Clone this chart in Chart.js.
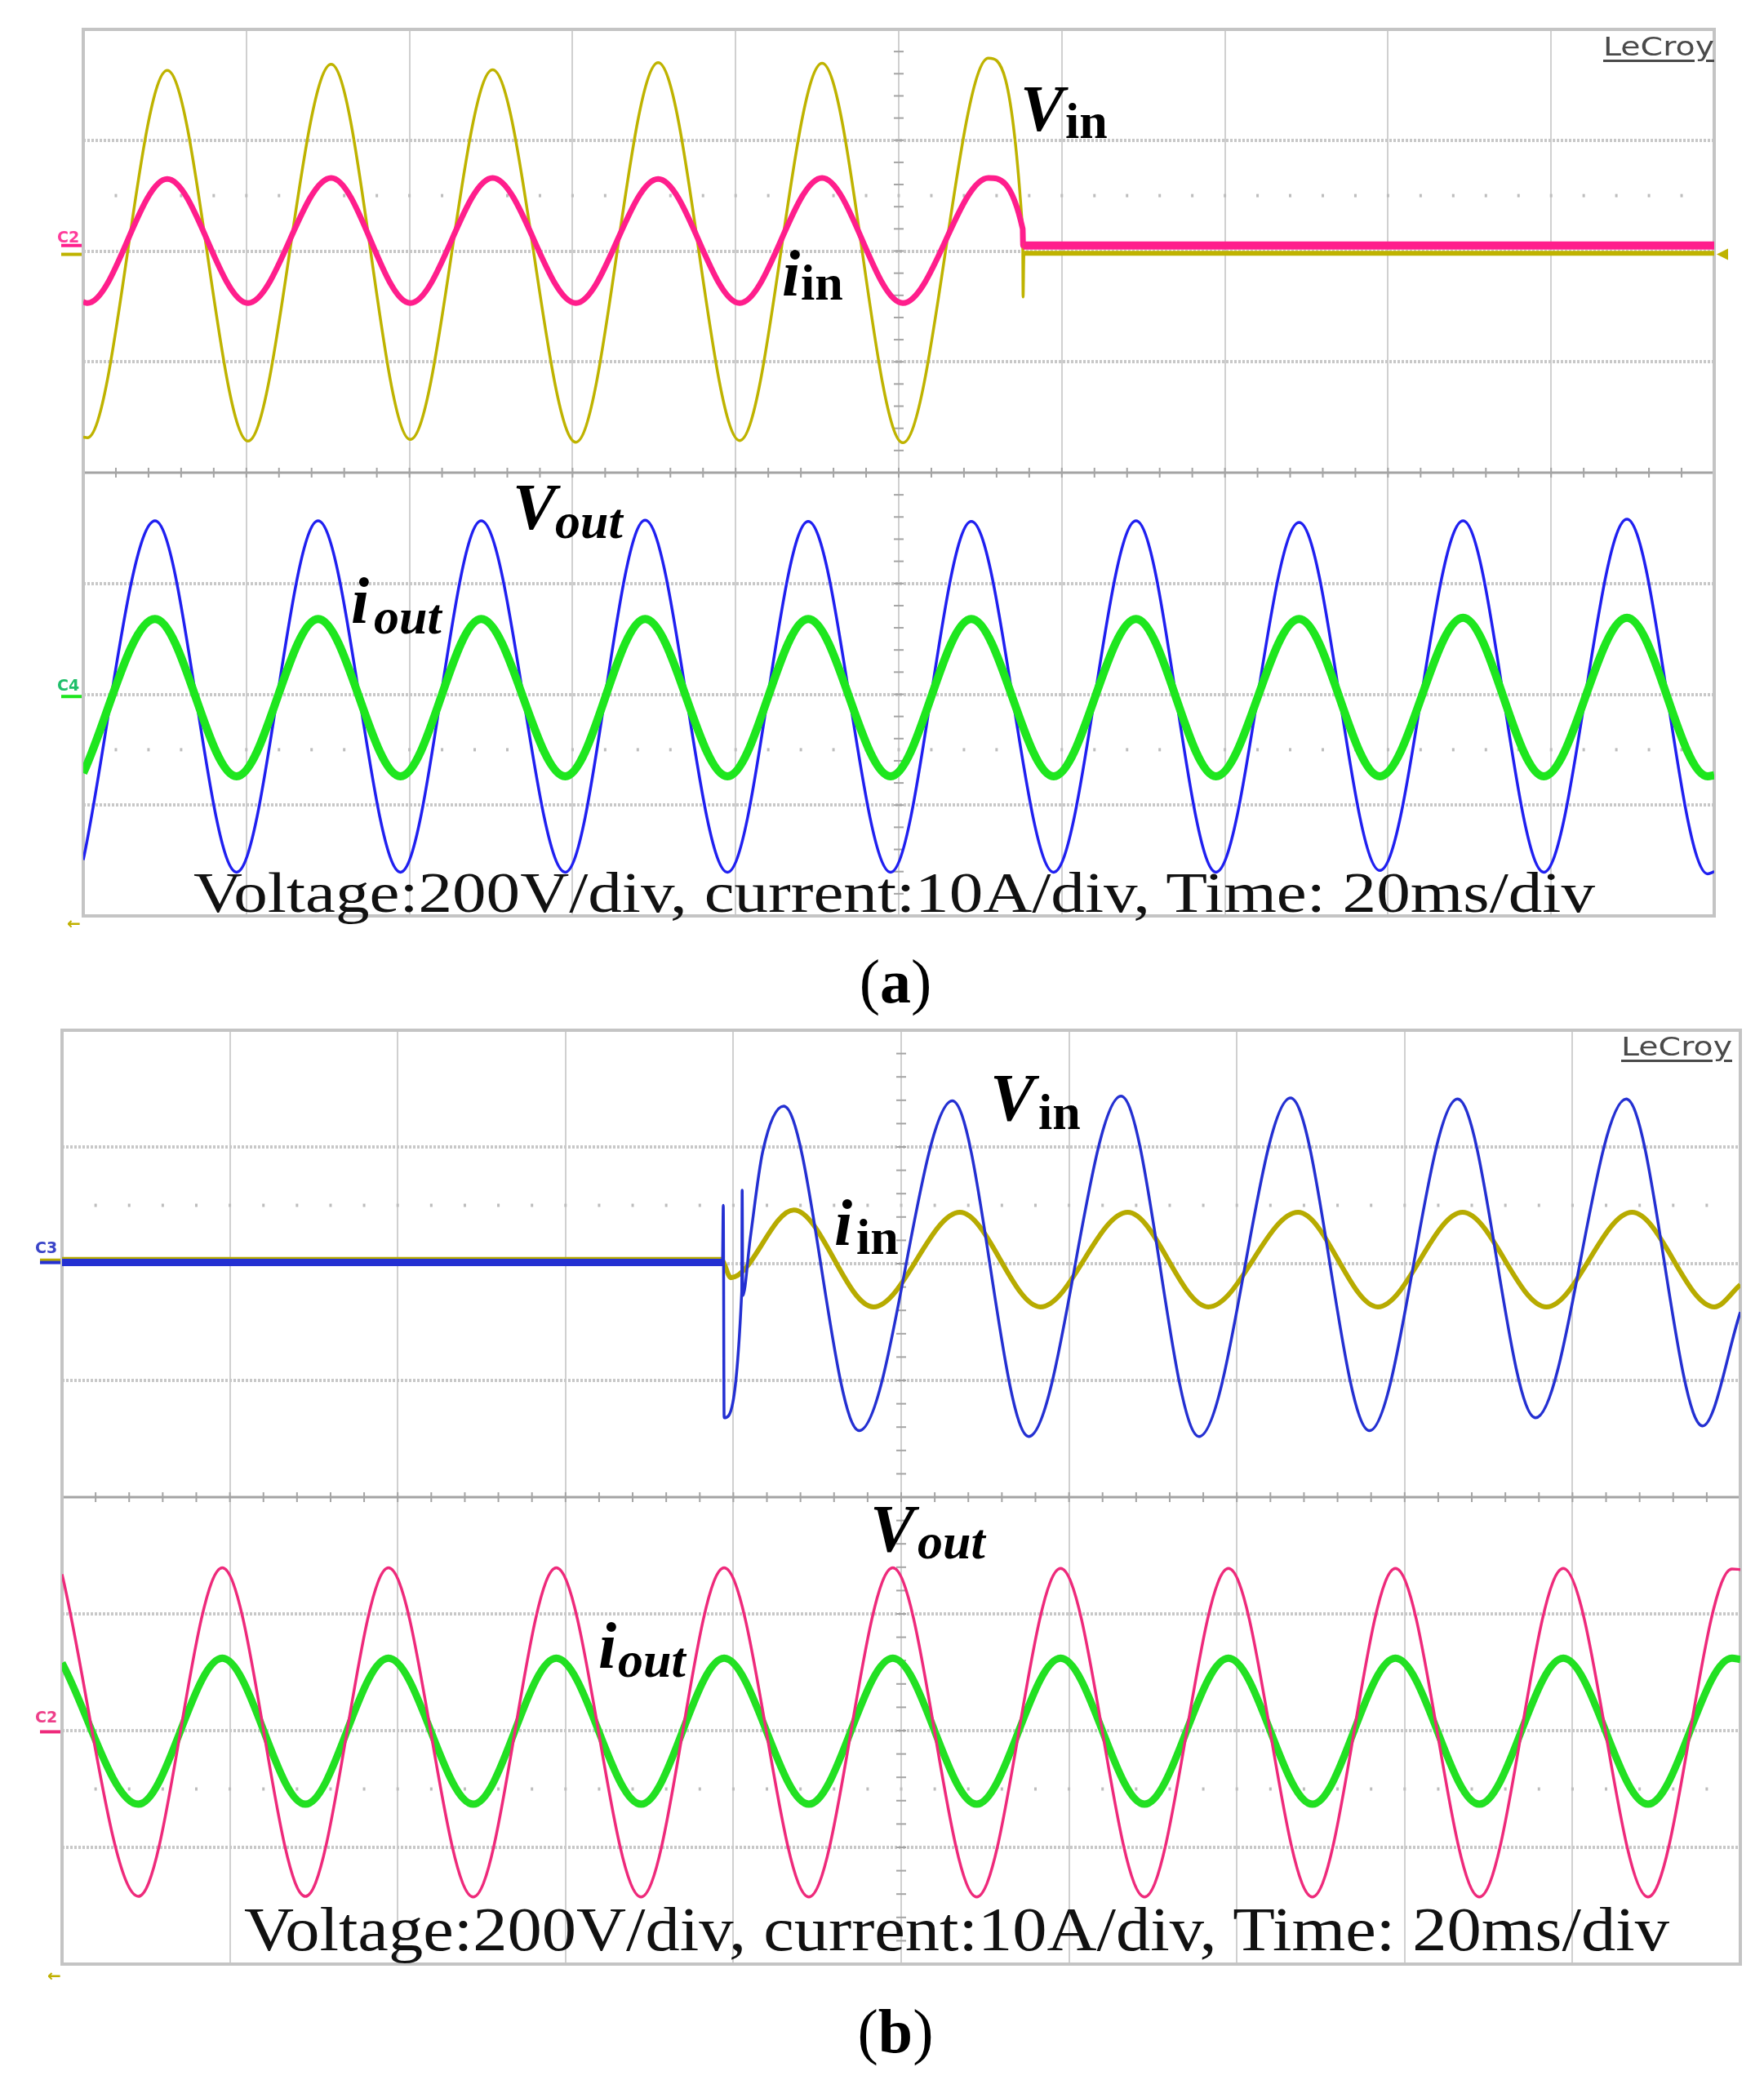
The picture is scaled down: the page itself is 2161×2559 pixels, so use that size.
<!DOCTYPE html>
<html>
<head>
<meta charset="utf-8">
<title>Input cut-off / start-up waveforms</title>
<script src="https://cdn.jsdelivr.net/npm/chart.js@4.4.0/dist/chart.umd.min.js"></script>
<style>
  html, body { margin: 0; padding: 0; background: #fff; }
  body { position: relative; width: 2161px; height: 2559px; overflow: hidden; }
  canvas { position: absolute; left: 0; }
  #scopeA { top: 0; }
  #scopeB { top: 1230px; }
  .txt { position: absolute; white-space: nowrap; color: #000; }
</style>
</head>
<body>
<canvas id="scopeA" width="2161" height="1160"></canvas>
<canvas id="scopeB" width="2161" height="1210"></canvas>
<script>
// ============================
// Scope settings
// ============================
const MS_PER_DIV = 20;
const V_PER_DIV = 200;
const A_PER_DIV = 10;
const X_DIVS = 10;
const Y_HALF = 4; // 8 divisions, split into two 4-div grids

// channel zero levels (divisions above screen centre)
const A_VIN_ZERO = 1.97, A_IIN_ZERO = 2.05, A_OUT_ZERO = -2.02;
const B_VIN_ZERO = 2.01, B_IIN_ZERO = 2.03, B_OUT_ZERO = -2.01;

// ============================
// (a) input switched off at ~115 ms
// times in ms (peaks/troughs), values in V / A
// ============================
const aInT = [0, 0.5, 10.3, 20.2, 30.4, 40.1, 50.2, 60.4, 70.5, 80.5, 90.6, 100.5, 111.0, 115.2, 115.25, 115.35, 200];
const aVin = [-330, -331, 332, -337, 343, -334, 333, -339, 346, -336, 345, -340, 354, 41, -77, 2, 2];
const aIin = [-5.1, -5.2, 6.0, -5.2, 6.1, -5.2, 6.1, -5.2, 6.0, -5.2, 6.1, -5.2, 6.1, 1.5, 0, 0, 0];

const aOutT = [0, 8.8, 18.8, 28.8, 38.9, 48.8, 59.1, 68.9, 79.0, 88.9, 99.0, 108.9, 119.0, 129.1, 138.9, 149.1, 159.0, 169.2, 179.1, 189.3, 199.2, 200];
const aVout = [-295, 317, -317, 317, -317, 317, -317, 318, -317, 316, -317, 316, -317, 317, -317, 314, -314, 317, -317, 320, -320, -316];
const aIout = [-6.9, 7.0, -7.2, 7.0, -7.2, 7.0, -7.2, 7.0, -7.2, 7.0, -7.2, 7.0, -7.2, 7.0, -7.2, 7.0, -7.2, 7.1, -7.2, 7.1, -7.2, -7.1];

// ============================
// (b) input switched on at ~79 ms
// ============================
const bVinT = [0, 78.7, 78.8, 78.9, 81.0, 81.05, 81.12, 82.0, 83.5, 86.0, 95.0, 106.1, 115.2, 126.2, 135.5, 146.4, 155.8, 166.3, 175.6, 186.4, 195.5, 200];
const bVin = [0, 0, 98, -266, -50, 124, -57, 40, 190, 268, -288, 277, -298, 285, -298, 282, -288, 280, -266, 280, -280, -85];

const bIinT = [0, 78.6, 79.7, 87.2, 96.7, 107.0, 116.6, 127.0, 136.6, 147.3, 156.8, 166.9, 176.9, 187.1, 196.9, 200];
const bIin = [0, 0, -1.5, 4.3, -4.0, 4.1, -4.0, 4.1, -4.0, 4.1, -4.0, 4.1, -4.0, 4.1, -4.0, -2.1];

const bOutT = [0, 9.1, 19.1, 29.0, 38.9, 49.0, 58.9, 69.0, 78.9, 89.0, 99.0, 109.0, 119.0, 129.0, 139.0, 149.0, 158.9, 168.9, 178.9, 189.0, 199.0, 200];
const bVout = [270, -282, 281, -282, 281, -283, 281, -283, 281, -283, 281, -283, 280, -283, 280, -283, 280, -283, 280, -283, 279, 278];
const bIout = [5.9, -6.2, 6.3, -6.2, 6.3, -6.2, 6.3, -6.2, 6.3, -6.2, 6.3, -6.2, 6.3, -6.2, 6.3, -6.2, 6.3, -6.2, 6.3, -6.2, 6.3, 6.2];

// ============================
// Graticule (frame, split line, centre ticks, channel markers)
// ============================
function graticule(bars, marker) {
  return {
    id: "graticule",
    beforeDatasetsDraw(chart) {
      const { ctx, chartArea: a } = chart;
      const x = chart.scales.x;
      const y = chart.scales.y;
      const line = (x1, y1, x2, y2) => {
        ctx.beginPath();
        ctx.moveTo(x1, y1);
        ctx.lineTo(x2, y2);
        ctx.stroke();
      };
      ctx.save();
      // sub-division dots on the half-division rows
      ctx.fillStyle = "#bdbdbd";
      for (let i = 1; i < X_DIVS * 5; i++) {
        const px = x.getPixelForValue((i * MS_PER_DIV) / 5);
        [2.5, -2.5].forEach((d) => ctx.fillRect(px - 1.5, y.getPixelForValue(d) - 2, 3, 4));
      }
      // split line between the two grids
      const y0 = y.getPixelForValue(0);
      ctx.strokeStyle = "#a4a4a4";
      ctx.lineWidth = 3;
      line(a.left, y0, a.right, y0);
      ctx.lineWidth = 2;
      for (let i = 1; i < X_DIVS * 5; i++) {
        const px = x.getPixelForValue((i * MS_PER_DIV) / 5);
        line(px, y0 - 6, px, y0 + 6);
      }
      // ticks on vertical centre line
      const xc = x.getPixelForValue((X_DIVS * MS_PER_DIV) / 2);
      for (let i = 1; i < Y_HALF * 10; i++) {
        const py = y.getPixelForValue(-Y_HALF + i / 5);
        line(xc - 6, py, xc + 6, py);
      }
      // frame
      ctx.strokeStyle = "#c4c4c4";
      ctx.lineWidth = 4;
      ctx.strokeRect(a.left, a.top, a.width, a.height);
      ctx.restore();
    },
    afterDraw(chart) {
      const { ctx, chartArea: a } = chart;
      ctx.save();
      bars.forEach((b) => {
        const py = chart.scales[b.axis].getPixelForValue(0);
        ctx.fillStyle = b.color;
        ctx.fillRect(a.left - 27, py - 2, 25, 4);
      });
      if (marker) {
        const py = chart.scales[marker.axis].getPixelForValue(0);
        ctx.fillStyle = marker.color;
        ctx.beginPath();
        ctx.moveTo(a.right + 3, py);
        ctx.lineTo(a.right + 17, py - 7);
        ctx.lineTo(a.right + 17, py + 7);
        ctx.closePath();
        ctx.fill();
      }
      ctx.restore();
    },
  };
}

// ============================
// Chart builder
// ============================
function makeScope(canvasId, pad, traces, bars, marker) {
  const full = X_DIVS * MS_PER_DIV;
  const scales = {
    x: {
      type: "linear",
      min: 0,
      max: full,
      ticks: { display: false, stepSize: MS_PER_DIV },
      grid: {
        drawTicks: false,
        lineWidth: 2,
        color: (c) => (c.tick && (c.tick.value === 0 || c.tick.value === full) ? "rgba(0,0,0,0)" : "#d0d0d0"),
      },
      border: { display: false },
    },
    y: {
      type: "linear",
      min: -Y_HALF,
      max: Y_HALF,
      ticks: { display: false, stepSize: 1 },
      grid: {
        drawTicks: false,
        lineWidth: 4,
        color: (c) => (c.tick && Math.abs(c.tick.value) % Y_HALF === 0 ? "rgba(0,0,0,0)" : "#c8c8c8"),
      },
      border: { display: false, dash: [3, 2] },
    },
  };
  traces.forEach((tr) => {
    scales[tr.axis] = {
      type: "linear",
      display: false,
      min: (-Y_HALF - tr.zero) * tr.perDiv,
      max: (Y_HALF - tr.zero) * tr.perDiv,
    };
  });
  const datasets = traces.map((tr) => ({
    label: tr.label,
    data: tr.t.map((t, i) => ({ x: t, y: tr.v[i] })),
    xAxisID: "x",
    yAxisID: tr.axis,
    borderColor: tr.color,
    borderWidth: tr.width,
    pointRadius: 0,
    fill: false,
    cubicInterpolationMode: "monotone",
    borderJoinStyle: "round",
    order: tr.order,
    segment: { borderWidth: tr.seg || (() => undefined) },
  }));
  return new Chart(document.getElementById(canvasId), {
    type: "line",
    data: { datasets },
    options: {
      responsive: false,
      animation: false,
      events: [],
      layout: { padding: pad },
      plugins: { legend: { display: false }, tooltip: { enabled: false } },
      scales,
    },
    plugins: [graticule(bars, marker)],
  });
}

// ============================
// Panel (a)
// ============================
const A_YEL = "#bfb300", A_PINK = "#ff1e8c", A_BLUE = "#2020f0", A_GREEN = "#1ee61e";
makeScope(
  "scopeA",
  { left: 102, right: 61, top: 36, bottom: 38 },
  [
    { label: "Vin", axis: "vin", zero: A_VIN_ZERO, perDiv: V_PER_DIV, t: aInT, v: aVin, color: A_YEL, width: 3.5, order: 1,
      seg: (s) => (s.p0.parsed.x >= 115.3 ? 6 : undefined) },
    { label: "iin", axis: "iin", zero: A_IIN_ZERO, perDiv: A_PER_DIV, t: aInT, v: aIin, color: A_PINK, width: 7, order: 0,
      seg: (s) => (s.p0.parsed.x >= 115.25 ? 10 : undefined) },
    { label: "Vout", axis: "vout", zero: A_OUT_ZERO, perDiv: V_PER_DIV, t: aOutT, v: aVout, color: A_BLUE, width: 3.5, order: 3 },
    { label: "iout", axis: "iout", zero: A_OUT_ZERO, perDiv: A_PER_DIV, t: aOutT, v: aIout, color: A_GREEN, width: 10, order: 2 },
  ],
  [
    { axis: "vin", color: A_YEL },
    { axis: "iin", color: A_PINK },
    { axis: "iout", color: A_GREEN },
  ],
  { axis: "vin", color: A_YEL }
);

// ============================
// Panel (b)
// ============================
const B_BLUE = "#2430d2", B_YEL = "#b7ab00", B_PINK = "#ee2a7b", B_GREEN = "#22e022";
makeScope(
  "scopeB",
  { left: 76, right: 29, top: 32, bottom: 34 },
  [
    { label: "Vin", axis: "vin", zero: B_VIN_ZERO, perDiv: V_PER_DIV, t: bVinT, v: bVin, color: B_BLUE, width: 3.5, order: 0,
      seg: (s) => (s.p1.parsed.x <= 78.7 ? 9 : undefined) },
    { label: "iin", axis: "iin", zero: B_IIN_ZERO, perDiv: A_PER_DIV, t: bIinT, v: bIin, color: B_YEL, width: 6, order: 1,
      seg: (s) => (s.p1.parsed.x <= 78.6 ? 8 : undefined) },
    { label: "Vout", axis: "vout", zero: B_OUT_ZERO, perDiv: V_PER_DIV, t: bOutT, v: bVout, color: B_PINK, width: 3.5, order: 2 },
    { label: "iout", axis: "iout", zero: B_OUT_ZERO, perDiv: A_PER_DIV, t: bOutT, v: bIout, color: B_GREEN, width: 9, order: 3 },
  ],
  [
    { axis: "iin", color: B_YEL },
    { axis: "vin", color: B_BLUE },
    { axis: "vout", color: B_PINK },
  ],
  null
);

// ============================
// Text (placed by baseline)
// ============================
const SERIF = '"Liberation Serif", "Times New Roman", serif';
const SANS = '"DejaVu Sans", "Liberation Sans", sans-serif';

function place(html, x, base, size, style, opts = {}) {
  const d = document.createElement("div");
  d.className = "txt";
  d.style.left = x + "px";
  d.style.font = `${style} ${size}px/1 ${opts.family || SERIF}`;
  if (opts.color) d.style.color = opts.color;
  if (opts.css) d.style.cssText += opts.css;
  d.innerHTML = html;
  const probe = document.createElement("span");
  probe.style.cssText = "display:inline-block;width:0;height:0;";
  d.appendChild(probe);
  document.body.appendChild(d);
  d.style.top = base - probe.offsetTop + "px";
  const w = d.getBoundingClientRect().width;
  if (opts.width) {
    d.style.transformOrigin = "0 0";
    d.style.transform = `scaleX(${opts.width / w})`;
  }
  if (opts.center) d.style.left = opts.center - w / 2 + "px";
  return d;
}

// trace labels
place("V", 1250, 160, 80, "italic bold");
place("in", 1305, 169, 62, "bold");
place("i", 958, 362, 80, "italic bold");
place("in", 981, 367, 62, "bold");
place("V", 628, 648, 80, "italic bold");
place("out", 680, 659, 62, "italic bold");
place("i", 430, 763, 80, "italic bold");
place("out", 458, 776, 62, "italic bold");

place("V", 1213, 1372, 82, "italic bold");
place("in", 1272, 1383, 62, "bold");
place("i", 1022, 1525, 80, "italic bold");
place("in", 1049, 1536, 62, "bold");
place("V", 1066, 1900, 82, "italic bold");
place("out", 1124, 1909, 62, "italic bold");
place("i", 733, 2043, 80, "italic bold");
place("out", 757, 2054, 62, "italic bold");

// scale notes
place("Voltage:200V/div, current:10A/div, Time: 20ms/div", 237, 1117, 70, "normal", { width: 1717, color: "#111" });
place("Voltage:200V/div, current:10A/div, Time: 20ms/div", 299, 2389, 77, "normal", { width: 1746, color: "#111" });

// captions
place("(<b>a</b>)", 0, 1228, 76, "normal", { center: 1097 });
place("(<b>b</b>)", 0, 2514, 76, "normal", { center: 1097 });

// scope decorations
const lecroyCss = "text-decoration:underline;text-decoration-thickness:3px;text-underline-offset:5px;";
place("LeCroy", 1964, 68, 32, "normal", { family: SANS, color: "#4a4a4a", width: 136, css: lecroyCss });
place("LeCroy", 1986, 1293, 32, "normal", { family: SANS, color: "#4a4a4a", width: 136, css: lecroyCss });

place("C2", 70, 297, 19, "bold", { family: SANS, color: "#ff3a9a" });
place("C4", 70, 846, 19, "bold", { family: SANS, color: "#1fbf6a" });
place("C3", 43, 1535, 19, "bold", { family: SANS, color: "#3a44c8" });
place("C2", 43, 2110, 19, "bold", { family: SANS, color: "#ee3f8a" });
place("&larr;", 82, 1138, 20, "bold", { family: SANS, color: "#c0b000" });
place("&larr;", 58, 2427, 20, "bold", { family: SANS, color: "#c0b000" });
</script>
</body>
</html>
